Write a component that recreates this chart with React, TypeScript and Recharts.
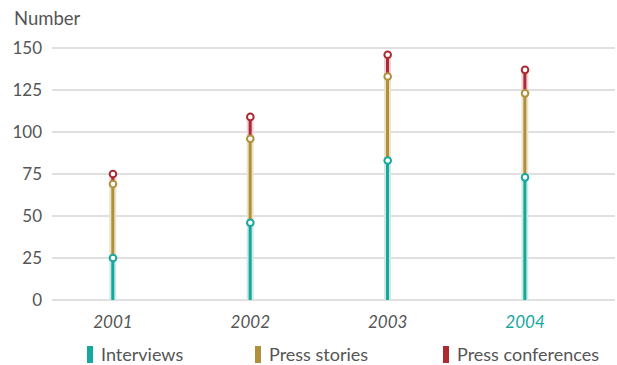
import React from 'react';
import {
  ComposedChart,
  Bar,
  Line,
  XAxis,
  YAxis,
  CartesianGrid,
} from 'recharts';

const years = ['2001', '2002', '2003', '2004'];
const interviews = [25, 46, 83, 73];
const pressStories = [44, 50, 50, 50];
const pressConferences = [6, 13, 13, 14];
const yTicks = [0, 25, 50, 75, 100, 125, 150];

const series = [
  { key: 'interviews', name: 'Interviews', color: '#15a89d', pale: '#cfe9e5' },
  { key: 'stories', name: 'Press stories', color: '#b1903b', pale: '#ece3cb' },
  { key: 'conferences', name: 'Press conferences', color: '#ad2a33', pale: '#efd3d6' },
];

const data = years.map((year, i) => ({
  x: i + 1,
  year,
  interviews: interviews[i],
  stories: pressStories[i],
  conferences: pressConferences[i],
  topInterviews: interviews[i],
  topStories: interviews[i] + pressStories[i],
  topConferences: interviews[i] + pressStories[i] + pressConferences[i],
}));

const FONT = 'Lato, "Open Sans", sans-serif';
const TEXT = '#555555';

// pale band behind a thin solid stem
function makeStem(color: string, pale: string) {
  return (props: any) => {
    const { x, y, width, height } = props;
    if (height == null || height <= 0) return <g />;
    const cx = x + width / 2;
    return (
      <g>
        <rect x={x} y={y} width={width} height={height} fill={pale} />
        <rect x={cx - 1.5} y={y} width={3} height={height} fill={color} />
      </g>
    );
  };
}

function YearTick(props: any) {
  const { x, y, payload } = props;
  const i = payload.value - 1;
  const last = i === years.length - 1;
  return (
    <text
      x={x}
      y={y + 20}
      textAnchor="middle"
      fontFamily={FONT}
      fontSize={17}
      fontStyle="italic"
      fill={last ? '#15a89d' : TEXT}
    >
      {years[i]}
    </text>
  );
}

export default function App() {
  return (
    <div style={{ position: 'absolute', left: 0, top: 0, width: 617, height: 365, background: '#fff' }}>
      <div
        style={{
          position: 'absolute',
          left: 14,
          top: 7,
          fontFamily: FONT,
          fontSize: 18.5,
          color: TEXT,
        }}
      >
        Number
      </div>
      <ComposedChart
        width={617}
        height={335}
        data={data}
        margin={{ top: 48, right: 2, bottom: 0, left: 0 }}
      >
        <CartesianGrid vertical={false} stroke="#d6d6d6" strokeWidth={1.5} />
        <XAxis
          dataKey="x"
          type="number"
          domain={[0.556, 4.655]}
          ticks={[1, 2, 3, 4]}
          axisLine={false}
          tickLine={false}
          tick={<YearTick />}
          height={35}
          allowDataOverflow
        />
        <YAxis
          domain={[0, 150]}
          ticks={yTicks}
          axisLine={false}
          tickLine={false}
          width={52}
          tickMargin={4}
          tick={{ fill: TEXT, fontSize: 17, fontFamily: FONT }}
        />
        {series.map((s) => (
          <Bar
            key={s.key}
            dataKey={s.key}
            stackId="a"
            barSize={7}
            isAnimationActive={false}
            shape={makeStem(s.color, s.pale)}
          />
        ))}
        {series.map((s) => (
          <Line
            key={'dot-' + s.key}
            dataKey={'top' + s.key.charAt(0).toUpperCase() + s.key.slice(1)}
            stroke="none"
            isAnimationActive={false}
            dot={{ r: 3.3, fill: '#ffffff', stroke: s.color, strokeWidth: 2 }}
            activeDot={false}
          />
        ))}
      </ComposedChart>
      {series.map((s, i) => (
        <div
          key={s.key}
          style={{
            position: 'absolute',
            left: [87, 255, 443][i],
            top: 343,
            display: 'flex',
            alignItems: 'center',
            fontFamily: FONT,
            fontSize: 18,
            color: TEXT,
          }}
        >
          <span style={{ display: 'inline-block', width: 6, height: 17, background: s.color, marginRight: 8 }} />
          {s.name}
        </div>
      ))}
    </div>
  );
}
